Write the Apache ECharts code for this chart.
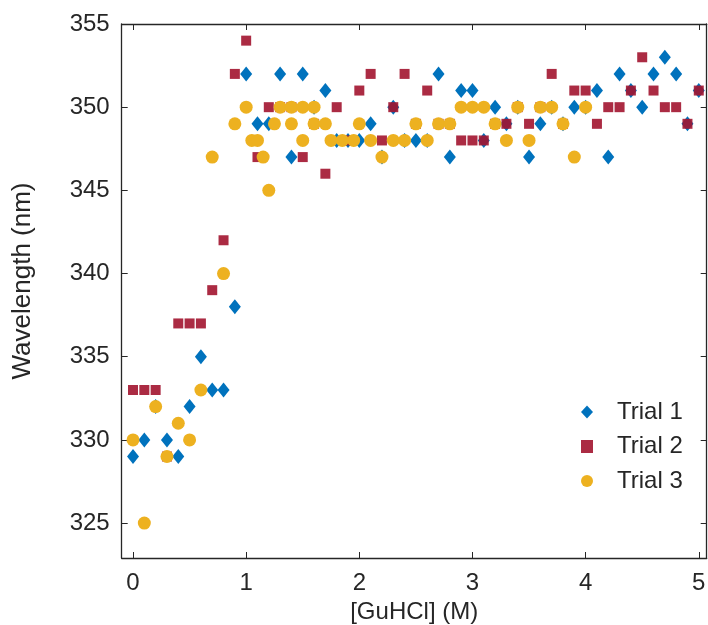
<!DOCTYPE html>
<html>
<head>
<meta charset="utf-8">
<script src="https://cdn.jsdelivr.net/npm/echarts@6/dist/echarts.min.js"></script>
<style>
  html, body { margin: 0; padding: 0; background: #fff; }
  #chart { width: 708px; height: 625px; }
</style>
</head>
<body>
<div id="chart"></div>
<script>
// Emission maximum vs. denaturant concentration, three trials
const concentration = [
  0.0, 0.1, 0.2, 0.3, 0.4, 0.5, 0.6, 0.7, 0.8, 0.9,
  1.0, 1.1, 1.2, 1.3, 1.4, 1.5, 1.6, 1.7, 1.8, 1.9,
  2.0, 2.1, 2.2, 2.3, 2.4, 2.5, 2.6, 2.7, 2.8, 2.9,
  3.0, 3.1, 3.2, 3.3, 3.4, 3.5, 3.6, 3.7, 3.8, 3.9,
  4.0, 4.1, 4.2, 4.3, 4.4, 4.5, 4.6, 4.7, 4.8, 4.9, 5.0
];

const trial1 = [
  329, 330, 332, 330, 329, 332, 335, 333, 333, 338,
  352, 349, 349, 352, 347, 352, 350, 351, 348, 348,
  348, 349, 347, 350, 348, 348, 348, 352, 347, 351,
  351, 348, 350, 349, 350, 347, 349, 350, 349, 350,
  350, 351, 347, 352, 351, 350, 352, 353, 352, 349, 351
];

const trial2 = [
  333, 333, 333, 329, 337, 337, 337, 339, 342, 352,
  354, 347, 350, 350, 350, 347, 349, 346, 350, 348,
  351, 352, 348, 350, 352, 349, 351, 349, 349, 348,
  348, 348, 349, 349, 350, 349, 350, 352, 349, 351,
  351, 349, 350, 350, 351, 353, 351, 350, 350, 349, 351
];

const trial3Conc = [
  0.0, 0.1, 0.2, 0.3, 0.4, 0.5, 0.6, 0.7, 0.8, 0.9,
  1.0, 1.05, 1.1, 1.15, 1.2, 1.25, 1.3, 1.4, 1.4, 1.5,
  1.5, 1.6, 1.6, 1.7, 1.75, 1.85, 1.95, 2.0, 2.1, 2.2,
  2.3, 2.4, 2.5, 2.6, 2.7, 2.8, 2.9, 3.0, 3.1, 3.2,
  3.3, 3.4, 3.5, 3.6, 3.7, 3.8, 3.9, 4.0
];
const trial3 = [
  330, 325, 332, 329, 331, 330, 333, 347, 340, 349,
  350, 348, 348, 347, 345, 349, 350, 350, 349, 350,
  348, 350, 349, 349, 348, 348, 348, 349, 348, 347,
  348, 348, 349, 348, 349, 349, 350, 350, 350, 349,
  348, 350, 348, 350, 350, 349, 347, 350
];

const seriesNames = ['Trial 1', 'Trial 2', 'Trial 3'];
const xTicks = [0, 1, 2, 3, 4, 5];
const yTicks = [325, 330, 335, 340, 345, 350, 355];

const ink = '#262626';
const font = '"Liberation Sans", Arial, Helvetica, sans-serif';

function pairs(xs, ys) {
  return xs.map((x, i) => [x, ys[i]]);
}

const tickStyle = {
  show: true, inside: true, length: 6,
  lineStyle: { color: ink, width: 1 }
};
const frameLine = { show: true, onZero: false, lineStyle: { color: ink, width: 1.3 } };

const chart = echarts.init(document.getElementById('chart'), null, { renderer: 'canvas' });

chart.setOption({
  animation: false,
  backgroundColor: '#ffffff',
  textStyle: { fontFamily: font },
  grid: {
    left: 121.7, right: 1.3, top: 24, bottom: 67,
    outerBoundsMode: 'none',
    containLabel: false,
    show: false
  },
  legend: {
    orient: 'vertical',
    left: 576, top: 395,
    itemWidth: 12, itemHeight: 13, itemGap: 10.5,
    data: [
      { name: seriesNames[0], icon: 'diamond' },
      { name: seriesNames[1], icon: 'rect' },
      { name: seriesNames[2], icon: 'circle' }
    ],
    textStyle: { fontSize: 24, color: ink, fontFamily: font, lineHeight: 24, padding: [0, 0, 0, 19] }
  },
  xAxis: [
    {
      type: 'value', min: -0.1, max: 5.07,
      name: '[GuHCl] (M)', nameLocation: 'middle', nameGap: 33,
      nameTextStyle: { fontSize: 24, color: ink, fontFamily: font },
      axisLine: frameLine,
      axisTick: Object.assign({ customValues: xTicks }, tickStyle),
      axisLabel: { customValues: xTicks, fontSize: 24, color: ink, margin: 13, fontFamily: font },
      splitLine: { show: false }
    },
    {
      type: 'value', min: -0.1, max: 5.07, position: 'top',
      axisLine: frameLine,
      axisTick: Object.assign({ customValues: xTicks }, tickStyle),
      axisLabel: { show: false },
      splitLine: { show: false }
    }
  ],
  yAxis: [
    {
      type: 'value', min: 322.9, max: 355,
      name: 'Wavelength (nm)', nameLocation: 'middle', nameGap: 86, nameRotate: 90,
      nameTextStyle: { fontSize: 26, color: ink, fontFamily: font, padding: [0, 0, 0, 20] },
      axisLine: frameLine,
      axisTick: Object.assign({ customValues: yTicks }, tickStyle),
      axisLabel: { customValues: yTicks, fontSize: 24, color: ink, margin: 12, fontFamily: font },
      splitLine: { show: false }
    },
    {
      type: 'value', min: 322.9, max: 355, position: 'right',
      axisLine: frameLine,
      axisTick: Object.assign({ customValues: yTicks }, tickStyle),
      axisLabel: { show: false },
      splitLine: { show: false }
    }
  ],
  series: [
    {
      name: seriesNames[0], type: 'scatter',
      symbol: 'diamond', symbolSize: [12, 15],
      itemStyle: { color: '#0072BD', opacity: 1 },
      data: pairs(concentration, trial1)
    },
    {
      name: seriesNames[1], type: 'scatter',
      symbol: 'rect', symbolSize: 10,
      itemStyle: { color: '#A2142F', opacity: 0.9 },
      data: pairs(concentration, trial2)
    },
    {
      name: seriesNames[2], type: 'scatter',
      symbol: 'circle', symbolSize: 13,
      itemStyle: { color: '#EDB120', opacity: 1 },
      data: pairs(trial3Conc, trial3)
    }
  ]
});
</script>
</body>
</html>
